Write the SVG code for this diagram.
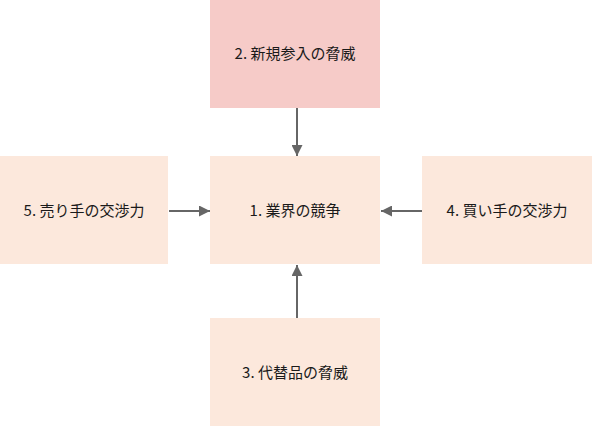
<svg xmlns="http://www.w3.org/2000/svg" width="592" height="426" viewBox="0 0 592 426">
<style>
.box{fill:#FCE8DC}
.top{fill:#F6CBC8}
.lbl{font-family:"Noto Sans CJK JP","Noto Sans",sans-serif;font-size:15px;fill:#1a1a1a;text-anchor:middle}
.conn{stroke:#666666;stroke-width:2;fill:none}
</style>
<defs>
<marker id="ah" viewBox="0 0 10 10" refX="10" refY="5" markerWidth="5.5" markerHeight="5.5" markerUnits="strokeWidth" orient="auto">
<path d="M0,0 L10,5 L0,10 Z" fill="#666666"/>
</marker>
</defs>
<rect width="592" height="426" fill="#ffffff"/>
<g id="n2">
<rect class="top" x="210" y="0" width="170" height="108"/>
<text class="lbl" x="295" y="59">2. 新規参入の脅威</text>
</g>
<g id="n1">
<rect class="box" x="210" y="156" width="170" height="108"/>
<text class="lbl" x="295" y="216">1. 業界の競争</text>
</g>
<g id="n5">
<rect class="box" x="0" y="156" width="168" height="108"/>
<text class="lbl" x="84" y="216">5. 売り手の交渉力</text>
</g>
<g id="n4">
<rect class="box" x="422" y="156" width="170" height="108"/>
<text class="lbl" x="507" y="216">4. 買い手の交渉力</text>
</g>
<g id="n3">
<rect class="box" x="210" y="318" width="170" height="108"/>
<text class="lbl" x="295" y="378">3. 代替品の脅威</text>
</g>
<g id="connectors">
<line class="conn" x1="297" y1="108" x2="297" y2="156" marker-end="url(#ah)"/>
<line class="conn" x1="169" y1="211" x2="210" y2="211" marker-end="url(#ah)"/>
<line class="conn" x1="422" y1="211" x2="381" y2="211" marker-end="url(#ah)"/>
<line class="conn" x1="297" y1="318" x2="297" y2="265" marker-end="url(#ah)"/>
</g>
</svg>
